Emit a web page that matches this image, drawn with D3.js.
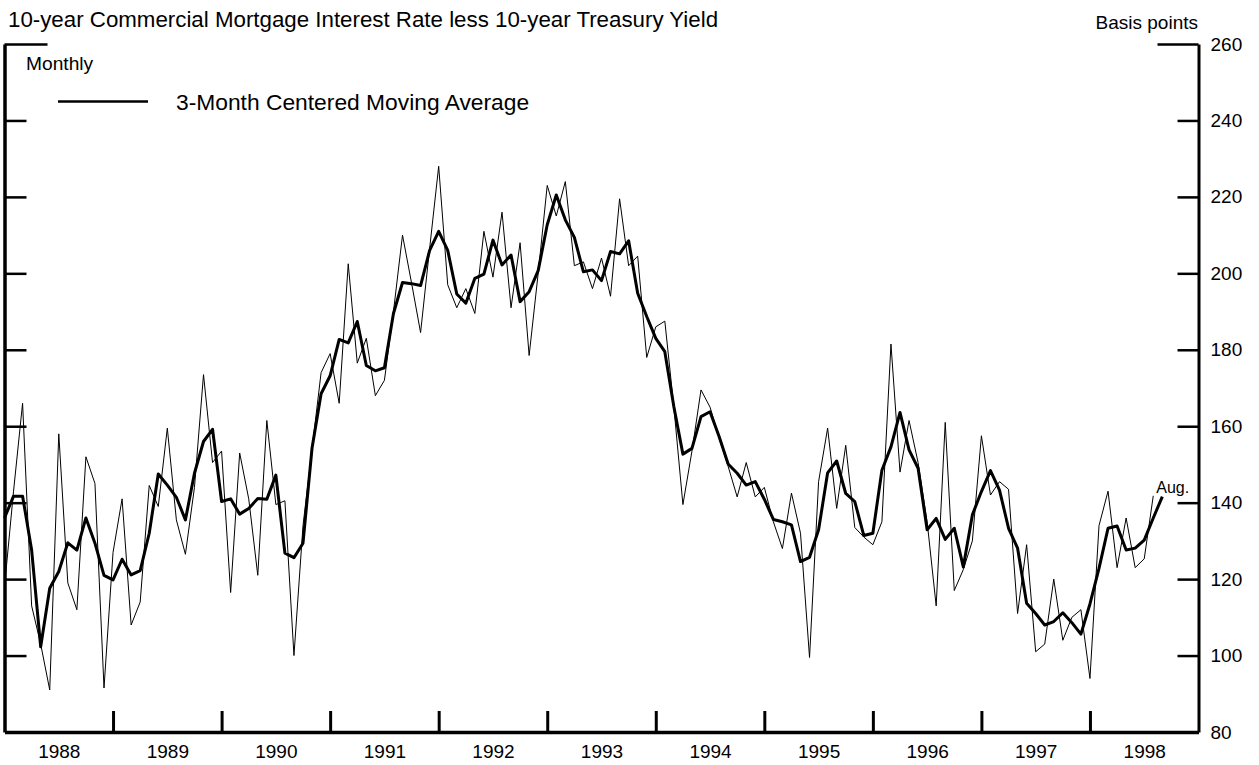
<!DOCTYPE html>
<html>
<head>
<meta charset="utf-8">
<script src="https://cdn.jsdelivr.net/npm/d3@7"></script>
<style>
  html, body { margin: 0; padding: 0; background: #fff; }
  svg { display: block; font-family: "Liberation Sans", Arial, Helvetica, sans-serif; }
</style>
</head>
<body>
<svg id="chart" width="1259" height="765"></svg>
<script>
// ---- data (basis points), monthly Jan 1988 .. Aug 1998 ----
const monthly = [
  118, 143, 166, 113, 103, 91, 158, 119, 112, 152, 145, 91.5,       // 1988
  127, 141, 108, 114, 144.5, 139, 159.5, 135.5, 126.5, 144, 173.5, 150.5, // 1989
  153.5, 116.5, 153, 141, 121, 161.5, 139.5, 140.5, 100, 134, 154, 174,    // 1990
  179, 166, 202.5, 176.5, 183, 168, 172, 190, 210, 197.5, 184.5, 206.5,    // 1991
  228, 197, 191, 196, 189.5, 211, 199, 216, 191, 208, 178.5, 200,          // 1992
  223, 215, 224, 202, 203, 196, 204, 194, 219.5, 202, 204.5, 178,          // 1993
  186, 187.5, 165, 139.5, 153.5, 169.5, 165, 157, 149.5, 141.5, 150.5, 141.5, // 1994
  144, 135, 128, 142.5, 132, 99.5, 145.5, 159.5, 138.5, 155, 133.5, 131,   // 1995
  129, 135, 181.5, 148, 161.5, 150.5, 135, 113, 161, 117, 122.5, 130,      // 1996
  157.5, 142, 145.5, 143.5, 111, 129, 101, 103, 120, 104, 110, 112,        // 1997
  94, 134, 143, 123, 136, 123, 125.3, 141.8                                // 1998 (to Aug.)
];
const movingAvg = [
  136, 141.7, 141.7, 127.6, 102.3, 117.6, 122, 129.5, 127.6, 136, 129.4, 121,
  119.8, 125.2, 121.1, 122.2, 132, 147.5, 144.6, 141.4, 135.5, 147.7, 156, 159.2,
  140.3, 141, 137, 138.5, 141.1, 140.9, 147.2, 126.8, 125.6, 129.4, 154.3, 168.5,
  173.2, 182.7, 181.8, 187.4, 175.9, 174.5, 175.3, 189.5, 197.6, 197.3, 196.8, 206,
  211, 206, 194.6, 192.2, 198.7, 199.8, 208.7, 202.2, 204.8, 192.6, 195.2, 200.7,
  212.7, 220.5, 214, 209.4, 200.4, 200.9, 198.1, 205.7, 205.1, 208.5, 194.8, 188.7,
  183, 179.5, 165.1, 152.7, 154.2, 162.5, 163.8, 157.3, 150.1, 147.7, 144.6, 145.5,
  140.9, 135.6, 135, 134.2, 124.6, 125.7, 132.9, 147.8, 150.9, 142.4, 140.3, 131.4,
  132, 148.5, 154.6, 163.6, 153.8, 149, 132.9, 135.9, 130.4, 133.3, 123.2, 136.8,
  142.9, 148.4, 143.3, 133.3, 128.1, 113.7, 111, 108, 108.9, 111.2, 108.6, 105.6,
  113.5, 122.8, 133.3, 133.9, 127.6, 128.1, 130.2, 136, 141.6
];
const yearLabels = ["1988","1989","1990","1991","1992","1993","1994","1995","1996","1997","1998"];
const yTickValues = [80, 100, 120, 140, 160, 180, 200, 220, 240, 260];
const titleText = "10-year Commercial Mortgage Interest Rate less 10-year Treasury Yield";
const unitText = "Basis points";
const seriesNote = "Monthly";
const legendText = "3-Month Centered Moving Average";
const lastLabel = "Aug.";

// ---- scales ----
const svg = d3.select("#chart");
const x = d3.scaleLinear().domain([0, 132]).range([4.5, 1198.5]);
const y = d3.scaleLinear().domain([80, 260]).range([732, 44]);
const [xL, xR] = x.range();

// ---- title / labels ----
svg.append("text").attr("x", 8).attr("y", 27).attr("font-size", 22.3).text(titleText);
svg.append("text").attr("x", 1198).attr("y", 29).attr("font-size", 19)
   .attr("text-anchor", "end").text(unitText);
svg.append("text").attr("x", 26).attr("y", 70).attr("font-size", 19.2).text(seriesNote);

// legend
svg.append("line").attr("x1", 58).attr("x2", 148).attr("y1", 101.5).attr("y2", 101.5)
   .attr("stroke", "#000").attr("stroke-width", 2.6);
svg.append("text").attr("x", 176).attr("y", 110).attr("font-size", 22.8).text(legendText);

// ---- axes ----
// right axis: ticks inward, labels outside
const rightAxis = svg.append("g").attr("transform", `translate(${xR},0)`)
  .call(d3.axisRight(y).tickValues(yTickValues).tickSize(-21).tickSizeOuter(0).tickPadding(12));
rightAxis.select(".domain").attr("stroke-width", 3);
rightAxis.selectAll(".tick line").attr("stroke-width", 2.5).attr("stroke", "#000");
rightAxis.selectAll(".tick line").filter(d => d === 260).attr("x2", -41);
rightAxis.selectAll(".tick line").filter(d => d === 80).remove();
rightAxis.selectAll(".tick text").attr("font-size", 19).attr("fill", "#000")
  .attr("font-family", "Liberation Sans, Arial, sans-serif");

// left axis: ticks inward, no labels
const leftAxis = svg.append("g").attr("transform", `translate(${xL},0)`)
  .call(d3.axisRight(y).tickValues(yTickValues).tickSize(22).tickSizeOuter(0).tickFormat(""));
leftAxis.select(".domain").attr("stroke-width", 3.5);
leftAxis.selectAll(".tick line").attr("stroke-width", 2.5).attr("stroke", "#000");
leftAxis.selectAll(".tick line").filter(d => d === 260).attr("x2", 43);
leftAxis.selectAll(".tick line").filter(d => d === 80).remove();

// bottom axis: year-boundary ticks pointing up
const yearBounds = d3.range(1, yearLabels.length).map(k => k * 12);
const bottomAxis = svg.append("g").attr("transform", `translate(0,${y.range()[0]})`)
  .call(d3.axisBottom(x).tickValues(yearBounds).tickSize(-21).tickSizeOuter(0).tickFormat(""));
bottomAxis.select(".domain").attr("stroke-width", 3.5);
bottomAxis.selectAll(".tick line").attr("stroke-width", 3).attr("stroke", "#000");

// year labels centred in each year
const labelAxis = svg.append("g").attr("transform", `translate(0,${y.range()[0]})`)
  .call(d3.axisBottom(x).tickValues(yearLabels.map((d, k) => k * 12 + 6)).tickSize(0)
        .tickPadding(13).tickFormat((d, k) => yearLabels[k]));
labelAxis.select(".domain").remove();
labelAxis.selectAll(".tick text").attr("font-size", 19).attr("fill", "#000")
  .attr("font-family", "Liberation Sans, Arial, sans-serif");

// ---- series ----
const line = d3.line().x((d, i) => x(i)).y(d => y(d));
svg.append("path").datum(monthly).attr("d", line)
   .attr("fill", "none").attr("stroke", "#000").attr("stroke-width", 1).attr("stroke-linejoin", "miter");
svg.append("path").datum(movingAvg).attr("d", line)
   .attr("fill", "none").attr("stroke", "#000").attr("stroke-width", 3).attr("stroke-linejoin", "round");

// last observation label
svg.append("text").attr("x", x(monthly.length - 1) + 3).attr("y", 493)
   .attr("font-size", 16).text(lastLabel);
</script>
</body>
</html>
